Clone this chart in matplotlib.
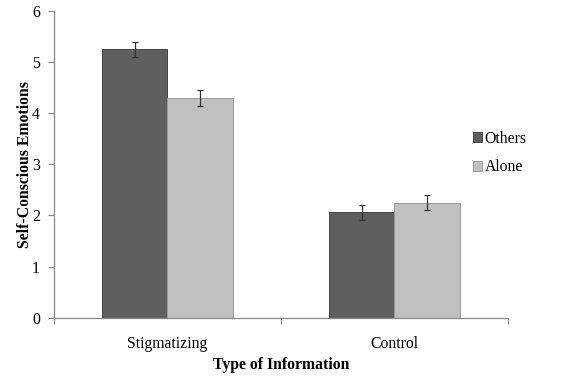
import matplotlib
matplotlib.use("Agg")
import matplotlib.pyplot as plt
import numpy as np

categories = ["Stigmatizing", "Control"]
series_names = ["Others", "Alone"]
others = [5.24, 2.06]
alone = [4.29, 2.25]
others_err = [0.15, 0.14]
alone_err = [0.15, 0.15]

plt.rcParams['font.family'] = ['Liberation Serif', 'DejaVu Serif']
FS = 11.3

fig = plt.figure(figsize=(5.66, 3.81), dpi=100)
ax = fig.add_axes([0.0954, 0.1654, 0.8021, 0.807])

x = np.arange(len(categories)) + 0.5
w = 0.29
err_kw = dict(ecolor='#333333', elinewidth=0.9, capsize=2.5, capthick=0.9)
ax.bar(x - w/2, others, w, yerr=others_err, color='#5f5f5f', edgecolor='#454545',
       linewidth=0.7, label=series_names[0], error_kw=err_kw)
ax.bar(x + w/2, alone, w, yerr=alone_err, color='#c0c0c0', edgecolor='#999999',
       linewidth=0.7, label=series_names[1], error_kw=err_kw)

ax.set_xlim(0, len(categories))
ax.set_ylim(0, 6)
ax.set_yticks(range(0, 7))
ax.set_xticks(range(0, len(categories) + 1))
ax.set_xticklabels([])
ax.set_xticks(x, minor=True)
ax.set_xticklabels(categories, minor=True, fontsize=FS)
ax.tick_params(axis='x', which='minor', length=0, pad=13)
ax.tick_params(axis='x', which='major', length=4, direction='out', color='#888888')
ax.tick_params(axis='y', length=4, direction='out', color='#888888', labelsize=FS, pad=6)

for s in ['top', 'right']:
    ax.spines[s].set_visible(False)
for s in ['left', 'bottom']:
    ax.spines[s].set_color('#888888')
    ax.spines[s].set_linewidth(0.9)

ax.set_ylabel('Self-Conscious Emotions', fontweight='bold', fontsize=FS, labelpad=-1)
ax.set_xlabel('Type of Information', fontweight='bold', fontsize=FS, labelpad=3.5)

leg = fig.legend(*ax.get_legend_handles_labels(), loc='center left',
                 bbox_to_anchor=(473/566, (381-153)/381), bbox_transform=fig.transFigure,
                 frameon=False, fontsize=FS, handlelength=0.6, handleheight=0.6,
                 handletextpad=0.15, labelspacing=0.8, borderpad=0, borderaxespad=0)

fig.savefig('out.png', dpi=100)
